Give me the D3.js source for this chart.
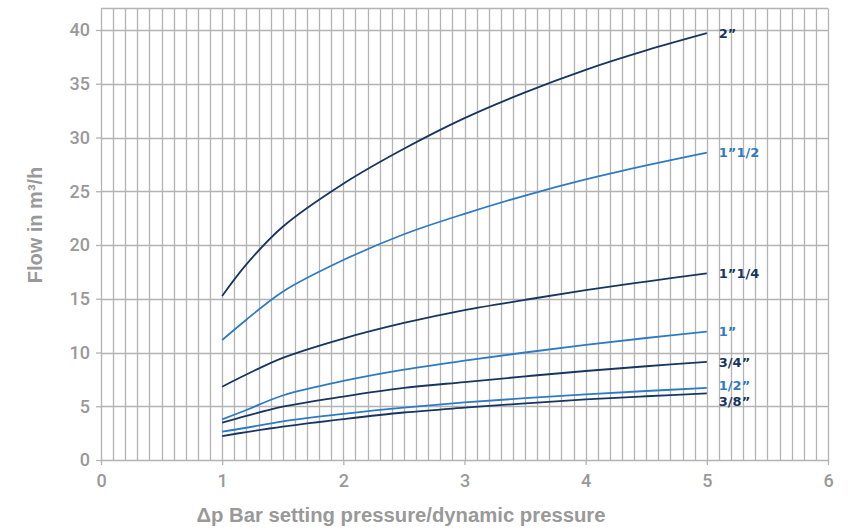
<!DOCTYPE html>
<html>
<head>
<meta charset="utf-8">
<title>Flow chart</title>
<style>
  body { margin: 0; background: #fff; }
  text { font-family: "Liberation Sans", Arial, sans-serif; }
</style>
</head>
<body>
<script src="https://cdnjs.cloudflare.com/ajax/libs/d3/7.8.5/d3.min.js"></script>
<script>

// pressure values (bar)
var pressures = [1, 1.2, 1.5, 2, 2.5, 3, 3.5, 4, 4.5, 5];

var labels = ["2\u201D", "1\u201D1/2", "1\u201D1/4", "1\u201D", "3/4\u201D", "1/2\u201D", "3/8\u201D"];

var flow_2     = [15.26, 18.2, 21.7, 25.7, 28.95, 31.8, 34.2, 36.3, 38.1, 39.7];
var flow_1_1_2 = [11.16, 13.05, 15.66, 18.6, 21.0, 22.9, 24.6, 26.1, 27.4, 28.6];
var flow_1_1_4 = [6.82, 7.95, 9.5, 11.3, 12.75, 13.95, 14.9, 15.8, 16.6, 17.37];
var flow_1     = [3.78, 4.65, 6.0, 7.35, 8.4, 9.25, 10.0, 10.7, 11.35, 11.94];
var flow_3_4   = [3.47, 4.1, 4.96, 5.9, 6.7, 7.25, 7.78, 8.28, 8.72, 9.12];
var flow_1_2   = [2.64, 3.0, 3.6, 4.3, 4.88, 5.36, 5.75, 6.1, 6.42, 6.7];
var flow_3_8   = [2.23, 2.6, 3.1, 3.8, 4.42, 4.87, 5.27, 5.64, 5.93, 6.2];

var allFlows = [flow_2, flow_1_1_2, flow_1_1_4, flow_1, flow_3_4, flow_1_2, flow_3_8];

var xTicks = [0, 1, 2, 3, 4, 5, 6];
var yTicks = [0, 5, 10, 15, 20, 25, 30, 35, 40];

var dark = "#17365f", light = "#2f7bc3";
var colors = [dark, light, dark, light, dark, light, dark];
var labelShift = [0, 0, 0, 0, 0, -3, 8];

var svg = d3.select("body")
    .append("svg")
    .attr("width", 855)
    .attr("height", 529);

var mLeft = 101, mRight = 828, mTop = 8.5, mBottom = 460;

var x = d3.scaleLinear().domain([0, 6]).range([mLeft, mRight]);
var y = d3.scaleLinear().domain([0, 42]).range([mBottom, mTop]);

var grid = svg.append("g");

// vertical minor grid every 0.1
grid.selectAll("line.v")
    .data(d3.range(0, 61).map(function(i){ return i / 10; }))
    .enter()
    .append("line")
    .attr("x1", function(d){ return Math.round(x(d)) + 0.5; })
    .attr("x2", function(d){ return Math.round(x(d)) + 0.5; })
    .attr("y1", mTop)
    .attr("y2", mBottom)
    .attr("stroke", "#b3b3b3")
    .attr("stroke-width", 1.3);

// horizontal grid every 5
grid.selectAll("line.h")
    .data(yTicks)
    .enter()
    .append("line")
    .attr("x1", mLeft)
    .attr("x2", mRight)
    .attr("y1", function(d){ return Math.round(y(d)) + 0.5; })
    .attr("y2", function(d){ return Math.round(y(d)) + 0.5; })
    .attr("stroke", "#b3b3b3")
    .attr("stroke-width", 1.3);

// top border
grid.append("line")
    .attr("x1", mLeft).attr("x2", mRight)
    .attr("y1", mTop).attr("y2", mTop)
    .attr("stroke", "#b3b3b3").attr("stroke-width", 1.3);

// axes
var xAxis = svg.append("g")
    .attr("transform", "translate(0," + mBottom + ")")
    .call(d3.axisBottom(x).tickValues(xTicks).tickSize(5).tickPadding(6).tickFormat(d3.format("d")));

var yAxis = svg.append("g")
    .attr("transform", "translate(" + mLeft + ",0)")
    .call(d3.axisLeft(y).tickValues(yTicks).tickSize(5).tickPadding(6).tickFormat(d3.format("d")));

[xAxis, yAxis].forEach(function(a){
    a.select(".domain").remove();
    a.selectAll(".tick line").attr("stroke", "#b3b3b3").attr("stroke-width", 1.3);
    a.selectAll(".tick text")
        .attr("fill", "#999999")
        .style("font-size", "18px")
        .style("font-weight", "500")
        .style("font-family", "Roboto, \"Liberation Sans\", sans-serif");
});
xAxis.selectAll(".tick text").attr("dy", "0.9em");

// curves
var line = d3.line()
    .x(function(d, i){ return x(pressures[i]); })
    .y(function(d){ return y(d); })
    .curve(d3.curveCatmullRom.alpha(0.5));

svg.selectAll("path.curve")
    .data(allFlows)
    .enter()
    .append("path")
    .attr("class", "curve")
    .attr("d", line)
    .attr("fill", "none")
    .attr("stroke", function(d, i){ return colors[i]; })
    .attr("stroke-width", 1.8);

svg.selectAll("text.lbl")
    .data(allFlows)
    .enter()
    .append("text")
    .attr("class", "lbl")
    .attr("x", x(5) + 12)
    .attr("y", function(d, i){ return y(d[d.length - 1]) + labelShift[i]; })
    .attr("dy", "0.35em")
    .attr("fill", function(d, i){ return colors[i]; })
    .style("font-size", "13px")
    .style("font-weight", "bold")
    .style("font-family", "\"DejaVu Sans\", sans-serif")
    .text(function(d, i){ return labels[i]; });

// axis titles
svg.append("text")
    .attr("x", 401)
    .attr("y", 522)
    .attr("text-anchor", "middle")
    .attr("fill", "#999999")
    .style("font-size", "20.3px")
    .style("font-weight", "bold")
    .text("\u0394p Bar setting pressure/dynamic pressure");

svg.append("text")
    .attr("transform", "translate(42,225) rotate(-90)")
    .attr("text-anchor", "middle")
    .attr("fill", "#999999")
    .style("font-size", "20px")
    .style("font-weight", "bold")
    .text("Flow in m\u00B3/h");

</script>
</body>
</html>
